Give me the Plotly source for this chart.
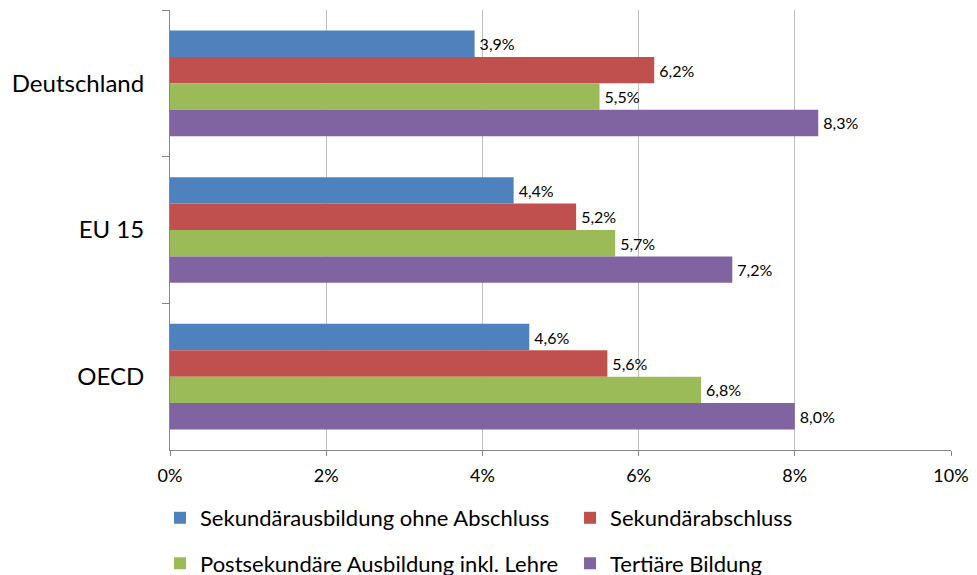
import plotly.graph_objects as go

categories = ["Deutschland", "EU 15", "OECD"]
series_names = [
    "Sekundärausbildung ohne Abschluss",
    "Sekundärabschluss",
    "Postsekundäre Ausbildung inkl. Lehre",
    "Tertiäre Bildung",
]
sek_ohne = [3.9, 4.4, 4.6]
sek_abschluss = [6.2, 5.2, 5.6]
postsek = [5.5, 5.7, 6.8]
tertiaer = [8.3, 7.2, 8.0]
tick_vals = [0, 2, 4, 6, 8, 10]
tick_text = ["0%", "2%", "4%", "6%", "8%", "10%"]

colors = ["#4F81BD", "#C0504D", "#9BBB59", "#8064A2"]
legend_ids = ["legend", "legend2", "legend3", "legend4"]
FONT = "Lato, Open Sans, sans-serif"

fig = go.Figure()
for name, vals, col, lg in zip(series_names, [sek_ohne, sek_abschluss, postsek, tertiaer], colors, legend_ids):
    fig.add_trace(go.Bar(
        y=categories, x=vals, name=name, orientation="h",
        marker=dict(color=col, line=dict(width=0)),
        text=["\u2009" + f"{v:.1f}%".replace(".", ",") for v in vals],
        textposition="outside",
        textfont=dict(family=FONT, size=16, color="#000000"),
        cliponaxis=False,
        legend=lg,
    ))

def leg(x, y):
    return dict(orientation="h", x=x, xanchor="left", y=y, yanchor="middle",
                font=dict(family=FONT, size=22, color="#000000"),
                bgcolor="rgba(0,0,0,0)", borderwidth=0)

fig.update_layout(
    width=977, height=575,
    margin=dict(l=170, r=26, t=10, b=125, autoexpand=False),
    paper_bgcolor="white", plot_bgcolor="white",
    barmode="group", bargap=0.28, bargroupgap=0,
    font=dict(family=FONT, color="#000000"),
    showlegend=True,
    legend=leg(-0.0128, -0.1545),
    legend2=leg(0.5122, -0.1545),
    legend3=leg(-0.0128, -0.258),
    legend4=leg(0.5122, -0.258),
    xaxis=dict(range=[0, 10], tickmode="array", tickvals=tick_vals, ticktext=tick_text,
               showgrid=True, gridcolor="#BFBFBF", gridwidth=1,
               showline=True, linecolor="#868686", linewidth=1,
               ticks="outside", ticklen=5, tickcolor="#868686",
               tickfont=dict(family=FONT, size=18), ticklabelstandoff=4,
               zeroline=False, fixedrange=True, automargin=False),
    yaxis=dict(autorange="reversed", showline=True, linecolor="#868686", linewidth=1,
               ticks="outside", ticklen=7, tickcolor="#868686", tickson="boundaries",
               tickfont=dict(family=FONT, size=24), ticklabelstandoff=20,
               showgrid=False, fixedrange=True, automargin=False),
)

fig.write_html("out.html",
               config={"displayModeBar": False},
               post_script="document.body.style.margin='0px';document.body.style.overflow='hidden';")
